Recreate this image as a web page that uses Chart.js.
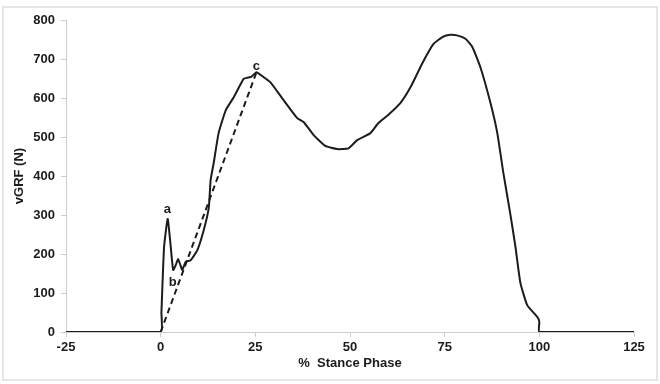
<!DOCTYPE html>
<html>
<head>
<meta charset="utf-8">
<script src="https://cdn.jsdelivr.net/npm/chart.js@4"></script>
<style>
  html, body { margin: 0; padding: 0; background: #fff; }
  #wrap { position: relative; width: 660px; height: 384px; }
  #frame { position: absolute; left: 2px; top: 6px; width: 652px; height: 371px; border: 2px solid #e6e6e6; }
  #c { position: absolute; left: 0; top: 0; }
</style>
</head>
<body>
<div id="wrap">
  <div id="frame"></div>
  <canvas id="c" width="660" height="384"></canvas>
</div>
<script>
// vGRF trace (% stance, N)
const stanceX = [-25, 0, 0.2, 0.9, 1.85, 2.5, 3.3, 4.0, 4.6, 5.2, 5.7, 6.6, 7.9, 9.7, 11.4, 12.7, 13.2,
  14.0, 15.3, 17.2, 19.3, 21.9, 22.9, 24.0, 25.3, 27.0, 29.0, 32.5, 36.0, 37.8, 40.4, 43.5, 46.6,
  49.6, 51.9, 55.4, 57.5, 60.0, 63.3, 66.0, 69.1, 72.0, 74.5, 76.5, 78.5, 80.5, 82.3, 84.4, 87.1, 88.9,
  90.5, 92.3, 93.7, 95.0, 96.8, 99.5, 100, 100, 125];
const vgrf = [0, 0, 50, 218, 290, 235, 159, 172, 187, 172, 159, 180, 184, 210, 262, 318, 390,
  433, 510, 569, 602, 649, 652, 655, 666, 655, 640, 594, 549, 538, 505, 477, 469,
  471, 492, 510, 536, 556, 587, 628, 689, 738, 757, 762, 760, 752, 731, 680, 587, 510,
  408, 305, 218, 126, 69, 38, 26, 0, 0];

// dashed loading-rate line from heel strike to peak c
const rateX = [0, 25.3];
const rateY = [0, 666];

// point labels
const markText = ['a', 'b', 'c'];
const markX = [1.8, 3.2, 25.3];
const markY = [315, 126, 682];

const xTicks = [-25, 0, 25, 50, 75, 100, 125];

const font = { family: "'Liberation Sans', Arial, sans-serif", size: 13, weight: 'bold' };
const ink = '#1c1c1c';

const markLabels = {
  id: 'markLabels',
  afterDatasetsDraw(chart) {
    const { ctx, scales } = chart;
    ctx.save();
    ctx.font = "bold 13px 'Liberation Sans', Arial, sans-serif";
    ctx.fillStyle = ink;
    ctx.textAlign = 'center';
    ctx.textBaseline = 'middle';
    markText.forEach((t, i) => {
      ctx.fillText(t, scales.x.getPixelForValue(markX[i]), scales.y.getPixelForValue(markY[i]));
    });
    ctx.restore();
  }
};

new Chart(document.getElementById('c'), {
  type: 'line',
  data: {
    datasets: [
      {
        data: stanceX.map((x, i) => ({ x: x, y: vgrf[i] })),
        borderColor: ink,
        borderWidth: 2,
        pointRadius: 0,
        tension: 0.15
      },
      {
        data: rateX.map((x, i) => ({ x: x, y: rateY[i] })),
        borderColor: ink,
        borderWidth: 2,
        borderDash: [6, 4],
        pointRadius: 0
      }
    ]
  },
  options: {
    responsive: false,
    animation: false,
    layout: { padding: { left: 0, right: 26, top: 20, bottom: 0 } },
    plugins: { legend: { display: false }, tooltip: { enabled: false } },
    scales: {
      x: {
        type: 'linear',
        min: -25,
        max: 125,
        afterBuildTicks: s => { s.ticks = xTicks.map(v => ({ value: v })); },
        afterFit: s => { s.height = 52; },
        grid: { drawOnChartArea: false, tickLength: 5, color: '#cccccc' },
        border: { color: '#cccccc', width: 1 },
        ticks: { font: font, color: ink, padding: 3, maxRotation: 0 },
        title: { display: true, text: '%  Stance Phase', font: font, color: ink, padding: { top: 0, bottom: 13 } }
      },
      y: {
        min: 0,
        max: 800,
        ticks: { stepSize: 100, font: font, color: ink, padding: 6 },
        afterFit: s => { s.width = 66; },
        grid: { drawOnChartArea: false, tickLength: 5, color: '#cccccc' },
        border: { color: '#cccccc', width: 1 },
        title: { display: true, text: 'vGRF (N)', font: font, color: ink, padding: { top: 12, bottom: 0 } }
      }
    }
  },
  plugins: [markLabels]
});
</script>
</body>
</html>
